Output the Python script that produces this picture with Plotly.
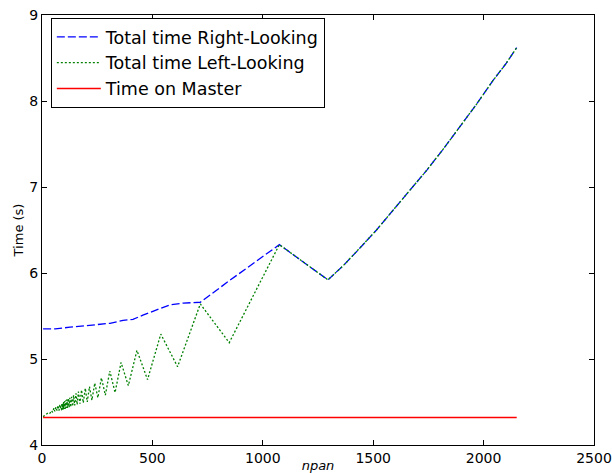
import plotly.graph_objects as go

# npan samples and timings
left_x = [5, 15, 22, 30, 36, 43, 48, 54, 58, 63, 68, 72, 77, 81, 85,
          88, 90, 92, 94, 96, 98, 100, 102, 105, 108, 110, 113, 116, 119,
          123, 126, 130, 134, 139, 143, 148, 154, 159, 165, 172, 179, 187,
          196, 205, 215, 226, 239, 253, 269, 287, 307, 331, 358, 391, 430,
          478, 538, 614, 717, 848, 1075, 1295, 1370, 1440, 1515, 1590, 1665,
          1744, 1820, 1893, 1970, 2043, 2100, 2150]
left_time = [4.33, 4.35, 4.36, 4.38, 4.37, 4.40, 4.38, 4.43, 4.39, 4.44, 4.40,
             4.46, 4.40, 4.47, 4.41,
             4.41, 4.48, 4.41, 4.49, 4.41, 4.50, 4.42, 4.51, 4.42, 4.52, 4.43,
             4.53, 4.43, 4.54, 4.44, 4.55, 4.44, 4.56, 4.45, 4.58, 4.46, 4.60,
             4.47, 4.62, 4.48, 4.64, 4.49, 4.66, 4.50, 4.68, 4.52, 4.72, 4.55,
             4.78, 4.58, 4.86, 4.61, 4.96, 4.69, 5.10, 4.76, 5.29, 4.91, 5.64,
             5.19, 6.33, 5.92, 6.10, 6.29, 6.50, 6.73, 6.96, 7.20, 7.45, 7.70,
             7.97, 8.24, 8.43, 8.62]

right_x = [5, 60, 127, 217, 250, 308, 367, 412, 457, 520, 580, 640, 685, 717,
           848, 1075, 1295, 1370, 1440, 1515, 1590, 1665, 1744, 1820, 1893,
           1970, 2043, 2100, 2150]
right_time = [5.35, 5.35, 5.37, 5.395, 5.40, 5.415, 5.45, 5.46, 5.51, 5.57,
              5.63, 5.65, 5.655, 5.66, 5.91, 6.33, 5.92, 6.10, 6.29, 6.50,
              6.73, 6.96, 7.20, 7.45, 7.70, 7.97, 8.24, 8.43, 8.62]

master_x = [5, 2150]
master_time = [4.32, 4.32]

FONT = "DejaVu Sans"

fig = go.Figure()

fig.add_trace(go.Scatter(
    x=right_x, y=right_time, mode="lines",
    name="Total time Right-Looking",
    line=dict(color="#0000ff", width=1.3, dash="8px,3px"),
))
fig.add_trace(go.Scatter(
    x=left_x, y=left_time, mode="lines",
    name="Total time Left-Looking",
    line=dict(color="#008000", width=1.3, dash="2px,2px"),
))
fig.add_trace(go.Scatter(
    x=master_x, y=master_time, mode="lines",
    name="Time on Master",
    line=dict(color="#ff0000", width=1.5),
))

axis_style = dict(
    showgrid=False,
    zeroline=False,
    showline=True,
    linecolor="black",
    linewidth=1,
    mirror="ticks",
    ticks="inside",
    ticklen=5,
    tickcolor="black",
    automargin=False,
    tickfont=dict(family=FONT, size=14, color="black"),
)

fig.update_layout(
    width=612,
    height=473,
    margin=dict(l=42, r=18, t=15, b=28),
    paper_bgcolor="white",
    plot_bgcolor="white",
    font=dict(family=FONT, color="black"),
    xaxis=dict(
        range=[0, 2500], tickvals=[0, 500, 1000, 1500, 2000, 2500],
        title=dict(text="<i>npan</i>", font=dict(family=FONT, size=13), standoff=2),
        **axis_style,
    ),
    yaxis=dict(
        range=[4, 9], tickvals=[4, 5, 6, 7, 8, 9],
        title=dict(text="Time (s)", font=dict(family=FONT, size=13), standoff=2),
        **axis_style,
    ),
    legend=dict(
        x=0.016, y=0.993, xanchor="left", yanchor="top",
        bordercolor="black", borderwidth=1, bgcolor="white",
        font=dict(family=FONT, size=17.5, color="black"),
        itemwidth=44,
    ),
    showlegend=True,
)

# drop the default page margin so the figure fills the window exactly
fig.write_html(
    "out.html",
    config={"displayModeBar": False},
    post_script="document.body.style.margin='0';"
                "document.documentElement.style.overflow='hidden';",
)
